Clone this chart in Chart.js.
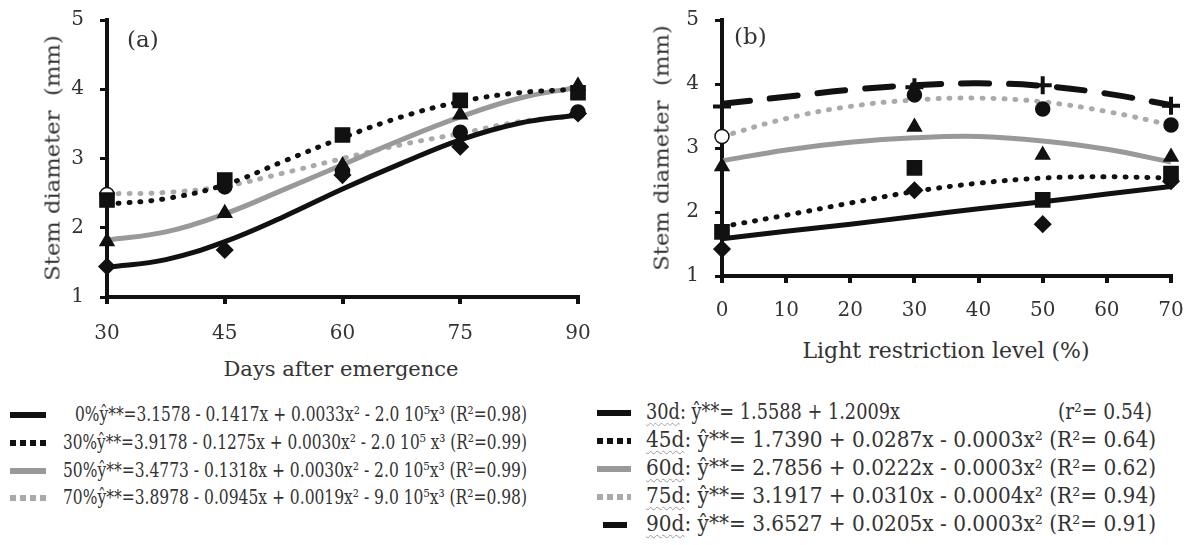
<!DOCTYPE html>
<html>
<head>
<meta charset="utf-8">
<script src="https://cdn.jsdelivr.net/npm/chart.js@4.4.0/dist/chart.umd.min.js"></script>
<style>
  body { margin: 0; background: #fff; font-family: "DejaVu Serif", "Liberation Serif", serif; color: #333; }
  #wrap { position: relative; width: 1194px; height: 545px; overflow: hidden; }
  canvas { position: absolute; }
  .txt { position: absolute; white-space: nowrap; line-height: 1; }
  .ytitle { transform: translate(-50%, -50%) rotate(-90deg) scaleX(1.08); font-size: 21px; }
  .sample { position: absolute; height: 6px; }
  .fit { transform-origin: left center; display: inline-block; }
  .sq { text-decoration: underline wavy #999; text-decoration-thickness: 1px; text-underline-offset: 3px; }
</style>
</head>
<body>
<div id="wrap">
  <canvas id="chartA" width="600" height="345" style="left:0;top:0;width:600px;height:345px"></canvas>
  <canvas id="chartB" width="594" height="330" style="left:600px;top:0;width:594px;height:330px"></canvas>

  <div class="txt" style="left:127px;top:28px;font-size:23px">(a)</div>
  <div class="txt" style="left:734px;top:25px;font-size:23px">(b)</div>
  <div class="txt ytitle" style="left:53px;top:158px">Stem diameter&nbsp; (mm)</div>
  <div class="txt ytitle" style="left:662px;top:148px">Stem diameter&nbsp; (mm)</div>
  <div class="txt" style="left:341px;top:369px;font-size:21px;transform:translate(-50%,-50%)">Days after emergence</div>
  <div class="txt" style="left:946px;top:351px;font-size:22px;transform:translate(-50%,-50%)">Light restriction level (%)</div>

  <div id="legA"></div>
  <div id="legB"></div>
</div>

<script>
// panel (a): days after emergence
const daysX = [30, 37.5, 45, 52.5, 60, 67.5, 75, 82.5, 90];
const fit0 = [1.43, 1.54, 1.80, 2.16, 2.56, 2.93, 3.27, 3.51, 3.63];
const fit30 = [2.34, 2.42, 2.62, 2.96, 3.30, 3.60, 3.82, 3.95, 4.00];
const fit50 = [1.82, 1.94, 2.20, 2.55, 2.91, 3.27, 3.60, 3.87, 4.03];
const fit70 = [2.49, 2.51, 2.60, 2.79, 3.00, 3.20, 3.36, 3.53, 3.62];

const daysObs = [30, 45, 60, 75, 90];
const obs0 = [1.44, 1.68, 2.76, 3.17, 3.65];
const obs30 = [2.40, 2.69, 3.34, 3.84, 3.95];
const obs50 = [1.80, 2.21, 2.90, 3.63, 4.05];
const obs70 = [2.48, 2.59, 2.81, 3.38, 3.67];

// panel (b): light restriction level
const levelX = [0, 10, 20, 30, 40, 50, 60, 70];
const fit30d = [1.58, 1.70, 1.81, 1.93, 2.05, 2.16, 2.28, 2.40];
const fit45d = [1.77, 1.95, 2.14, 2.32, 2.45, 2.53, 2.55, 2.53];
const fit60d = [2.80, 2.97, 3.09, 3.16, 3.18, 3.11, 2.98, 2.78];
const fit75d = [3.18, 3.46, 3.65, 3.75, 3.78, 3.72, 3.57, 3.36];
const fit90d = [3.69, 3.80, 3.91, 3.98, 4.01, 3.97, 3.85, 3.67];

const levelObs = [0, 30, 50, 70];
const obs30d = [1.42, 2.34, 1.81, 2.48];
const obs45d = [1.69, 2.69, 2.19, 2.60];
const obs60d = [2.71, 3.33, 2.89, 2.86];
const obs75d = [3.18, 3.83, 3.61, 3.36];
const obs90d = [3.65, 3.95, 3.98, 3.66];

const yTicks = [1, 2, 3, 4, 5];

const legendA = [
  "0%ŷ**=3.1578 - 0.1417x + 0.0033x² - 2.0 10⁵x³ (R²=0.98)",
  "30%ŷ**=3.9178 - 0.1275x + 0.0030x² - 2.0 10⁵ x³ (R²=0.99)",
  "50%ŷ**=3.4773 - 0.1318x + 0.0030x² - 2.0 10⁵x³ (R²=0.99)",
  "70%ŷ**=3.8978 - 0.0945x + 0.0019x² - 9.0 10⁵x³ (R²=0.98)"
];
const legendBTags = ["30d", "45d", "60d", "75d", "90d"];
const legendB = [
  ": ŷ**= 1.5588 + 1.2009x",
  ": ŷ**= 1.7390 + 0.0287x - 0.0003x² (R²= 0.64)",
  ": ŷ**= 2.7856 + 0.0222x - 0.0003x² (R²= 0.62)",
  ": ŷ**= 3.1917 + 0.0310x - 0.0004x² (R²= 0.94)",
  ": ŷ**= 3.6527 + 0.0205x - 0.0003x² (R²= 0.91)"
];

const BLACK = "#111";
const GRAY = "#999";
const LGRAY = "#aaa";
const SERIF = "'DejaVu Serif', 'Liberation Serif', serif";

function pairs(xs, ys) {
  return xs.map((x, i) => ({ x: x, y: ys[i] }));
}

function curve(xs, ys, color, width, dash) {
  return {
    data: pairs(xs, ys),
    borderColor: color,
    borderWidth: width,
    borderDash: dash || [],
    borderCapStyle: dash ? "round" : "butt",
    pointRadius: 0,
    tension: 0.4,
    fill: false
  };
}

function marks(xs, ys, style, radius, fillFirst) {
  const bg = ys.map((v, i) => (i === 0 && fillFirst ? "#fff" : BLACK));
  return {
    data: pairs(xs, ys),
    showLine: false,
    pointStyle: style,
    pointRadius: radius,
    pointBackgroundColor: bg,
    pointBorderColor: BLACK,
    pointBorderWidth: style === "cross" ? 4 : 1.5,
    clip: 12
  };
}

function axes(xmin, xmax, xstep, yAxisWidth, xAxisHeight, xPad) {
  const tickFont = { family: SERIF, size: 20 };
  return {
    x: {
      type: "linear", min: xmin, max: xmax, z: 1,
      afterBuildTicks: s => { s.ticks = []; for (let v = xmin; v <= xmax; v += xstep) s.ticks.push({ value: v }); },
      afterFit: s => { s.height = xAxisHeight; s.paddingLeft = 0; s.paddingRight = 0; },
      grid: { drawOnChartArea: false, color: BLACK, tickLength: 7, lineWidth: 4 },
      border: { color: BLACK, width: 4 },
      ticks: { color: "#333", font: tickFont, padding: xPad, maxRotation: 0 }
    },
    y: {
      type: "linear", min: 1, max: 5, z: 1,
      afterBuildTicks: s => { s.ticks = yTicks.map(v => ({ value: v })); },
      afterFit: s => { s.width = yAxisWidth; s.paddingTop = 0; s.paddingBottom = 0; },
      grid: { drawOnChartArea: false, color: BLACK, tickLength: 7, lineWidth: 3 },
      border: { color: BLACK, width: 4 },
      ticks: { color: "#333", font: tickFont, padding: 16 }
    }
  };
}

const baseOpts = {
  responsive: false,
  animation: false,
  plugins: { legend: { display: false }, tooltip: { enabled: false } }
};

new Chart(document.getElementById("chartA"), {
  type: "line",
  data: {
    datasets: [
      marks(daysObs, obs0, "rectRot", 8, false),
      marks(daysObs, obs30, "rect", 10, false),
      marks(daysObs, obs50, "triangle", 8, false),
      marks(daysObs, obs70, "circle", 7, true),
      curve(daysX, fit0, BLACK, 5),
      curve(daysX, fit30, BLACK, 5, [1, 10]),
      curve(daysX, fit50, GRAY, 5),
      curve(daysX, fit70, LGRAY, 5, [1, 10])
    ]
  },
  options: Object.assign({}, baseOpts, {
    layout: { padding: { left: 0, right: 22, top: 20, bottom: 0 } },
    scales: axes(30, 90, 15, 107, 48, 18)
  })
});

new Chart(document.getElementById("chartB"), {
  type: "line",
  data: {
    datasets: [
      marks(levelObs, obs90d, "cross", 9, false),
      marks(levelObs, obs30d, "rectRot", 8, false),
      marks(levelObs, obs45d, "rect", 10, false),
      marks(levelObs, obs60d, "triangle", 8, false),
      marks(levelObs, obs75d, "circle", 7, true),
      curve(levelX, fit30d, BLACK, 5),
      curve(levelX, fit45d, BLACK, 5, [1, 10]),
      curve(levelX, fit60d, GRAY, 5),
      curve(levelX, fit75d, LGRAY, 5, [1, 10]),
      curve(levelX, fit90d, BLACK, 6, [28, 20])
    ]
  },
  options: Object.assign({}, baseOpts, {
    layout: { padding: { left: 0, right: 23, top: 20, bottom: 0 } },
    scales: axes(0, 70, 10, 122, 54, 16)
  })
});

// legends drawn as html below the charts
const solid = c => c;
const dotted = c => "repeating-linear-gradient(90deg," + c + " 0 6px, transparent 6px 10px)";
const samplesA = [solid(BLACK), dotted(BLACK), solid(GRAY), dotted(LGRAY)];
const samplesB = [solid(BLACK), dotted(BLACK), solid(GRAY), dotted(LGRAY), solid(BLACK)];

const legA = document.getElementById("legA");
const rowA = [415, 443, 471, 498];
const startA = [75, 63, 63, 63];
legendA.forEach((t, i) => {
  const s = document.createElement("div");
  s.className = "sample";
  s.style.cssText = "left:10px;width:36px;top:" + (rowA[i] - 3) + "px;background:" + samplesA[i];
  legA.appendChild(s);
  const d = document.createElement("div");
  d.className = "txt";
  d.style.cssText = "left:" + startA[i] + "px;top:" + (rowA[i] - 11) + "px;font-size:21px";
  d.innerHTML = '<span class="fit">' + t + "</span>";
  legA.appendChild(d);
  const span = d.firstChild;
  const w = span.getBoundingClientRect().width;
  span.style.transform = "scaleX(" + ((527 - startA[i]) / w) + ")";
});

const legB = document.getElementById("legB");
const rowB = [413, 441, 469, 497, 525];
legendB.forEach((t, i) => {
  const s = document.createElement("div");
  s.className = "sample";
  const w = i === 4 ? 24 : 34;
  s.style.cssText = "left:" + (i === 4 ? 603 : 597) + "px;width:" + w + "px;top:" + (rowB[i] - 3) + "px;background:" + samplesB[i];
  legB.appendChild(s);
  const d = document.createElement("div");
  d.className = "txt";
  d.style.cssText = "left:646px;top:" + (rowB[i] - 12) + "px;font-size:22px";
  d.innerHTML = '<span class="fit"><span class="sq">' + legendBTags[i] + "</span>" + t + "</span>";
  legB.appendChild(d);
  const span = d.firstChild;
  const tw = span.getBoundingClientRect().width;
  span.style.transform = "scaleX(" + ((i === 0 ? 254 : 510) / tw) + ")";
});
const r2 = document.createElement("div");
r2.className = "txt";
r2.style.cssText = "left:1058px;top:401px;font-size:22px";
r2.innerHTML = '<span class="fit">(r²= 0.54)</span>';
legB.appendChild(r2);
const r2s = r2.firstChild;
r2s.style.transform = "scaleX(" + (94 / r2s.getBoundingClientRect().width) + ")";
</script>
</body>
</html>
